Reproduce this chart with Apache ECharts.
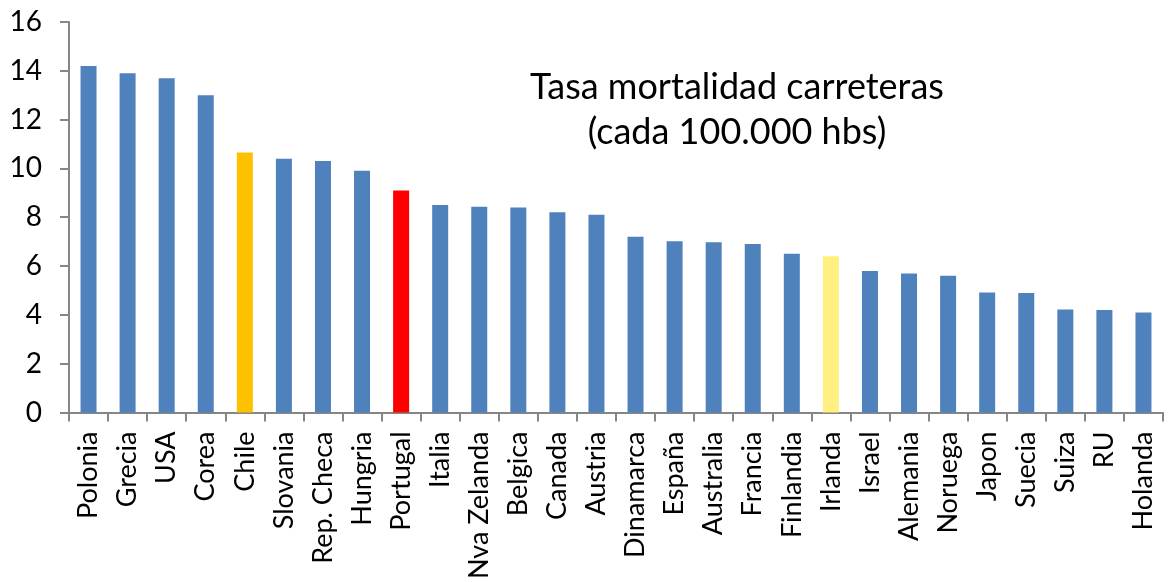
<!DOCTYPE html>
<html>
<head>
<meta charset="utf-8">
<script src="https://cdn.jsdelivr.net/npm/echarts@6/dist/echarts.min.js"></script>
<style>
  html, body { margin: 0; padding: 0; background: #fff; }
  #main { width: 1174px; height: 582px; }
</style>
</head>
<body>
<div id="main"></div>
<script>
// datos de la grafica
var paises = ['Polonia', 'Grecia', 'USA', 'Corea', 'Chile', 'Slovania', 'Rep. Checa', 'Hungria', 'Portugal',
  'Italia', 'Nva Zelanda', 'Belgica', 'Canada', 'Austria', 'Dinamarca', 'España', 'Australia', 'Francia',
  'Finlandia', 'Irlanda', 'Israel', 'Alemania', 'Noruega', 'Japon', 'Suecia', 'Suiza', 'RU', 'Holanda'];
var tasa = [14.2, 13.9, 13.7, 13.0, 10.65, 10.4, 10.3, 9.9, 9.1,
  8.5, 8.43, 8.4, 8.2, 8.1, 7.2, 7.02, 6.98, 6.9,
  6.5, 6.4, 5.8, 5.7, 5.6, 4.92, 4.9, 4.22, 4.2, 4.1];
var yTicks = [0, 2, 4, 6, 8, 10, 12, 14, 16];

// colores destacados
var destacados = { 'Chile': '#FFC000', 'Portugal': '#FF0000', 'Irlanda': '#FFF07F' };

var font = 'Lato, "Open Sans", sans-serif';
var myChart = echarts.init(document.getElementById('main'));

myChart.setOption({
  animation: false,
  title: {
    text: 'Tasa mortalidad carreteras\n(cada 100.000 hbs)',
    left: 732,
    top: 60,
    textAlign: 'center',
    textStyle: { fontFamily: font, fontSize: 36, fontWeight: 'normal', color: '#000', lineHeight: 45 }
  },
  grid: { left: 69, right: 11, top: 22, bottom: 168 },
  xAxis: {
    type: 'category',
    data: paises,
    axisLine: { lineStyle: { color: '#868686', width: 2 } },
    axisTick: { show: true, length: 9, lineStyle: { color: '#868686', width: 2 } },
    axisLabel: { rotate: 90, interval: 0, margin: 19, fontFamily: font, fontSize: 27, color: '#000' }
  },
  yAxis: {
    type: 'value',
    min: yTicks[0],
    max: yTicks[yTicks.length - 1],
    interval: 2,
    splitLine: { show: false },
    axisLine: { show: true, lineStyle: { color: '#868686', width: 2 } },
    axisTick: { show: true, length: 9, lineStyle: { color: '#868686', width: 2 } },
    axisLabel: { margin: 27, fontFamily: font, fontSize: 28, color: '#000' }
  },
  series: [{
    type: 'bar',
    barWidth: 16,
    data: tasa.map(function (v, i) {
      var c = destacados[paises[i]] || '#4F81BD';
      return { value: v, itemStyle: { color: c } };
    })
  }]
});
</script>
</body>
</html>
